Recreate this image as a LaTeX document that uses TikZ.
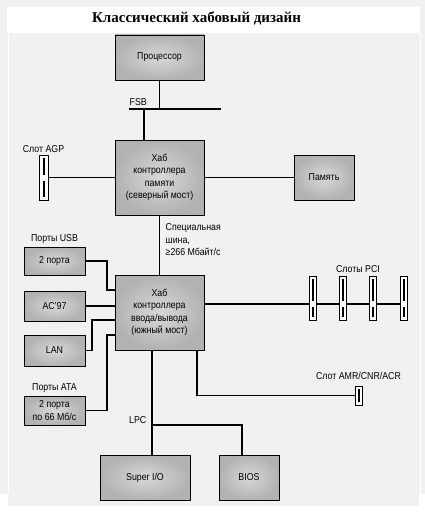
\documentclass[tikz,border=0pt]{standalone}
\usepackage{fontspec}
\setmainfont{Liberation Sans}[FakeStretch=0.88]
\newfontfamily\titlefont{Liberation Serif}
\usepackage{tikz}
\usetikzlibrary{positioning, calc}
\definecolor{bgGray}{HTML}{F1F1F1}
\definecolor{boxIn}{HTML}{D8D8D8}
\definecolor{boxOut}{HTML}{B2B2B2}
\tikzstyle{Block} = [
draw, thin,
shading=radial, inner color=boxIn, outer color=boxOut,
align=center, font=\fontsize{10}{12.5}\selectfont,
inner sep=0pt]
\tikzstyle{Label} = [inner sep=0.5pt, font=\fontsize{10}{12.5}\selectfont]
\tikzstyle{Line} = [line width=1.6pt]
\tikzstyle{Bus} = [line width=2.2pt]
\tikzset{
  Slot/.style={draw, thin, fill=white, minimum width=8pt, inner sep=0pt,
    path picture={
      \draw[line width=2pt] ([yshift=-3pt]path picture bounding box.north)
        -- ([yshift={3pt-#1}]path picture bounding box.center);
      \draw[line width=2pt] ([yshift={-3pt-#1}]path picture bounding box.center)
        -- ([yshift=3pt]path picture bounding box.south);}},
  SlotFull/.style={draw, thin, fill=white, minimum width=8pt, inner sep=0pt,
    path picture={
      \draw[line width=2pt] ([yshift=-3pt]path picture bounding box.north)
        -- ([yshift=3pt]path picture bounding box.south);}}
}

\begin{document}
\begin{tikzpicture}[x=1pt, y=-1pt]
    % background and title band
    \fill [bgGray] (0,0) rectangle (425,494);
    \fill [bgGray] (8,494) rectangle (419,506);
    \fill [white] (7,7) rectangle (420,33);
    \draw [white, line width=1pt] (8,33) -- (8,494);
    \draw [white, line width=1pt] (420,33) -- (420,494);
    \useasboundingbox (0,0) rectangle (425,516);
    \node [inner sep=0pt, font=\titlefont\bfseries\fontsize{15}{18}\selectfont] (title) at (196.5,18) {Классический хабовый дизайн};

    % blocks
    \node [Block, minimum width=89pt, minimum height=45pt] (cpu) at (159.5,57.5) {Процессор};
    \node [Block, minimum width=89pt, minimum height=75pt] (nb) at (159.5,177.5) {Хаб\\контроллера\\памяти\\(северный мост)};
    \node [Block, minimum width=60pt, minimum height=45pt] (mem) at (324,177.5) {Память};
    \node [Block, minimum width=89pt, minimum height=75pt] (sb) at (159.5,312.5) {Хаб\\контроллера\\ввода/вывода\\(южный мост)};
    \node [Block, minimum width=61pt, minimum height=28pt] (usb) at (54.5,261) {2 порта};
    \node [Block, minimum width=61pt, minimum height=30pt] (ac97) at (54.5,306) {AC’97};
    \node [Block, minimum width=61pt, minimum height=31pt] (lan) at (54.5,350.5) {LAN};
    \node [Block, minimum width=61pt, minimum height=29pt] (ata) at (54.5,410.5) {2 порта\\по 66 Мб/с};
    \node [Block, minimum width=90pt, minimum height=45pt] (sio) at (145,477.5) {Super I/O};
    \node [Block, minimum width=60pt, minimum height=45pt] (bios) at (249,477.5) {BIOS};

    % slots
    \node [Slot=0pt, minimum width=9pt, minimum height=45pt] (agp) at (43.5,177.5) {};
    \node [Slot=6pt, minimum width=7pt, minimum height=44pt] (pci1) at (313,298) {};
    \node [Slot=6pt, minimum width=7pt, minimum height=44pt] (pci2) at (343,298) {};
    \node [Slot=6pt, minimum width=7pt, minimum height=44pt] (pci3) at (373,298) {};
    \node [Slot=6pt, minimum width=7pt, minimum height=44pt] (pci4) at (403.5,298) {};
    \node [SlotFull, minimum width=7pt, minimum height=19pt] (amr) at (358.5,395.5) {};

    % labels
    \coordinate (fsbL) at (129,109);
    \coordinate (fsbR) at (221,109);
    \node [Label, anchor=south west] (fsb) at ([yshift=3pt]fsbL) {FSB};
    \node [Label, above=2pt of agp] (agplabel) {Слот AGP};
    \node [Label, above=3pt of usb] (usblabel) {Порты USB};
    \node [Label, above=3pt of ata] (atalabel) {Порты ATA};
    \node [Label, above=3pt of $(pci2.north)!0.5!(pci3.north)$] (pcilabel) {Слоты PCI};
    \node [Label, above=6pt of amr] (amrlabel) {Слот AMR/CNR/ACR};
    \node [Label, anchor=north west, align=left] (hublink) at (165,223) {Специальная\\шина,\\≥266 Мбайт/с};

    % connectors
    \draw [Bus] (fsbL) -- (fsbR);
    \draw [Line] (cpu.south) -- (cpu.south |- fsbL);
    \draw [Line] ([xshift=-15.5pt]nb.north) -- ([xshift=-15.5pt]nb.north |- fsbL);
    \draw [Line] (agp) -- (nb);
    \draw [Line] (nb) -- (mem);
    \draw [Line] (nb) -- (sb);

    \draw [Line] (usb.east) -- ++(22,0) |- ([yshift=22.5pt]sb.west);
    \draw [Line] (ac97.east) -- (ac97.east -| sb.west);
    \draw [Line] (lan.east) -- ++(7,0) |- ([yshift=-7.5pt]sb.west);
    \draw [Line] (ata.east) -- ++(22,0) |- ([yshift=-22.5pt]sb.west);

    \coordinate (pcibus) at ([yshift=8.5pt]sb.east);
    \draw [Line] (pcibus) -- (pcibus -| pci1.west);
    \foreach \a/\b in {pci1/pci2, pci2/pci3, pci3/pci4}
        \draw [Line] (pcibus -| \a.east) -- (pcibus -| \b.west);

    \draw [Line] ([xshift=37.5pt]sb.south) |- (amr.west);

    \draw [Line] ([xshift=-7.5pt]sb.south) -- ++(0,75) coordinate (lpc) -- (lpc |- sio.north);
    \draw [Line] (lpc) -| ([xshift=-7pt]bios.north);
    \node [Label, anchor=south east] (lpclabel) at ([xshift=-5pt,yshift=1pt]lpc) {LPC};
\end{tikzpicture}
\end{document}
